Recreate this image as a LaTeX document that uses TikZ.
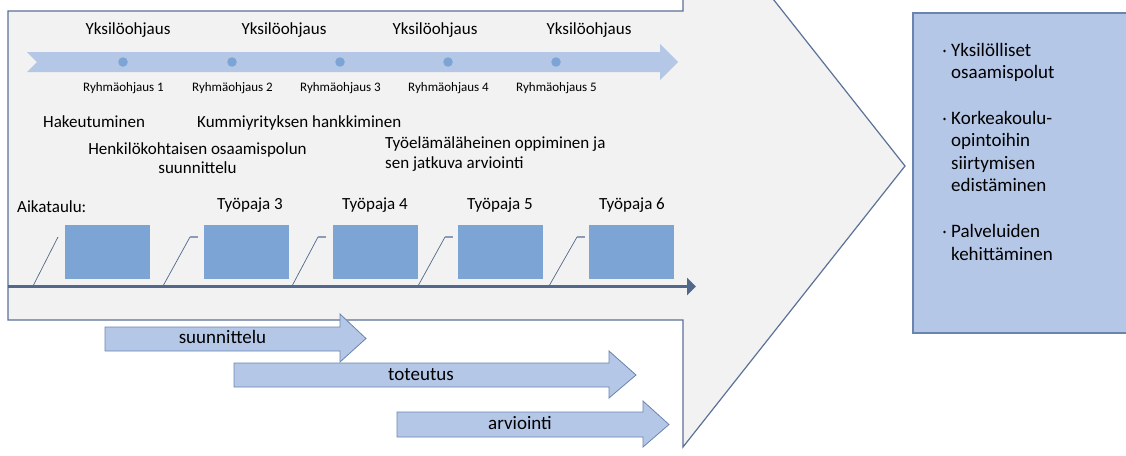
\documentclass[tikz,border=0pt]{standalone}
\usepackage{fontspec}
\setmainfont{Carlito}
\usetikzlibrary{arrows.meta}
\definecolor{frameborder}{HTML}{5B7197}
\definecolor{framefill}{HTML}{F2F2F2}
\definecolor{lightblue}{HTML}{B4C7E7}
\definecolor{midblue}{HTML}{7CA4D5}
\definecolor{darkline}{HTML}{52678A}
\definecolor{arrborder}{HTML}{6A84B0}
\definecolor{stubline}{HTML}{8C9CB8}
\tikzset{
  lbl/.style={inner sep=0pt, anchor=base, font=\fontsize{17}{18}\selectfont},
  grp/.style={inner sep=0pt, anchor=base, font=\fontsize{13}{14}\selectfont},
  wsbox/.style={fill=midblue, draw=none, minimum width=85pt, minimum height=54pt, inner sep=0pt},
  dotmark/.style={circle, fill=midblue, minimum size=9.5pt, inner sep=0pt},
  phasearrow/.style={fill=lightblue, draw=arrborder, line width=0.8pt, line join=miter},
  phaselbl/.style={inner sep=0pt, anchor=base, font=\fontsize{19}{20}\selectfont},
  leader/.style={draw=darkline, line width=0.7pt},
  stub/.style={draw=stubline, line width=1.2pt},
  restext/.style={inner sep=0pt, anchor=base west, align=left, font=\fontsize{19}{22.5}\selectfont},
}
\begin{document}
\begin{tikzpicture}[x=1pt, y=-1pt]
\useasboundingbox (0,0) rectangle (1126,455);
\clip (0,0) rectangle (1126,455);
% big arrow
\draw[fill=framefill, draw=frameborder, line width=1.2pt, line join=miter]
  (8,11) -- (683,11) -- (683,-115) -- (905,166) -- (683,447) -- (683,320) -- (8,320) -- cycle;
% timeline band
\fill[lightblue] (27,52) -- (660,52) -- (660,44) -- (678,62) -- (660,80) -- (660,72) -- (27,72) -- (37,62) -- cycle;
\foreach \x/\n in {123/1,232/2,340/3,448/4,556/5}{
  \node[dotmark] (d\n) at (\x,62) {};
  \node[grp] (g\n) at (\x+0.5,91) {Ryhmäohjaus \n};
}
\node[lbl] (y1) at (128,34) {Yksilöohjaus};
\node[lbl] (y2) at (284,34) {Yksilöohjaus};
\node[lbl] (y3) at (435,34) {Yksilöohjaus};
\node[lbl] (y4) at (589,34) {Yksilöohjaus};
\node[lbl, anchor=base west] (hak) at (43,127) {Hakeutuminen};
\node[lbl, anchor=base west] (kum) at (197,127) {Kummiyrityksen hankkiminen};
\node[lbl, align=center, font=\fontsize{17}{18.5}\selectfont] (hen) at (197.5,173) {Henkilökohtaisen osaamispolun\\suunnittelu};
\node[lbl, anchor=base west, align=left, font=\fontsize{17}{20}\selectfont] (tyo) at (385,168) {Työelämäläheinen oppiminen ja\\sen jatkuva arviointi};
\node[lbl, anchor=base west] (aik) at (17,212) {Aikataulu:};
% workshop boxes
\node[wsbox] (w1) at (107.5,252) {};
\node[wsbox] (w3) at (246.5,252) {};
\node[wsbox] (w4) at (375.5,252) {};
\node[wsbox] (w5) at (500.5,252) {};
\node[wsbox] (w6) at (631.5,252) {};
\node[lbl] (t3) at (250,209) {Työpaja 3};
\node[lbl] (t4) at (375,209) {Työpaja 4};
\node[lbl] (t5) at (500,209) {Työpaja 5};
\node[lbl] (t6) at (632,209) {Työpaja 6};
% leader lines
\coordinate (a1) at (33,286); \coordinate (b1) at (58,237);
\draw[leader] (a1) -- (b1);
\foreach \i/\xa/\xb in {2/163/190,3/292/318,4/418/445,5/549/577}{
  \coordinate (a\i) at (\xa,286); \coordinate (b\i) at (\xb,237); \coordinate (c\i) at (\xb+8,237);
  \draw[leader] (a\i) -- (b\i);
  \draw[stub] (b\i) -- (c\i);
}
% time axis
\coordinate (ax0) at (8,286.5);
\coordinate (ax1) at (696,286.5);
\draw[darkline, line width=3pt, -{Triangle[length=9pt,width=17pt]}] (ax0) -- (ax1);
% phase arrows
\draw[phasearrow] (105,327) -- (340,327) -- (340,314) -- (366,338.5) -- (340,362) -- (340,351) -- (105,351) -- cycle;
\node[phaselbl] (p1) at (222.5,343.5) {suunnittelu};
\draw[phasearrow] (234,363) -- (609,363) -- (609,351) -- (636,375) -- (609,398) -- (609,387) -- (234,387) -- cycle;
\node[phaselbl] (p2) at (421,380.5) {toteutus};
\draw[phasearrow] (397,412) -- (643,412) -- (643,401) -- (669,424.5) -- (643,447) -- (643,437) -- (397,437) -- cycle;
\node[phaselbl] (p3) at (520,429.5) {arviointi};
% result box
\draw[fill=lightblue, draw=arrborder, line width=1.2pt] (913,13) rectangle (1140,333);
\foreach \yy in {51,119,232}{ \fill (944.5,\yy) circle (1.4pt); }
\node[restext] (r1) at (951,78.5) {Yksilölliset\\osaamispolut};
\node[restext] (r2) at (951,191.5) {Korkeakoulu-\\opintoihin\\siirtymisen\\edistäminen};
\node[restext] (r3) at (951,260) {Palveluiden\\kehittäminen};
\end{tikzpicture}
\end{document}
